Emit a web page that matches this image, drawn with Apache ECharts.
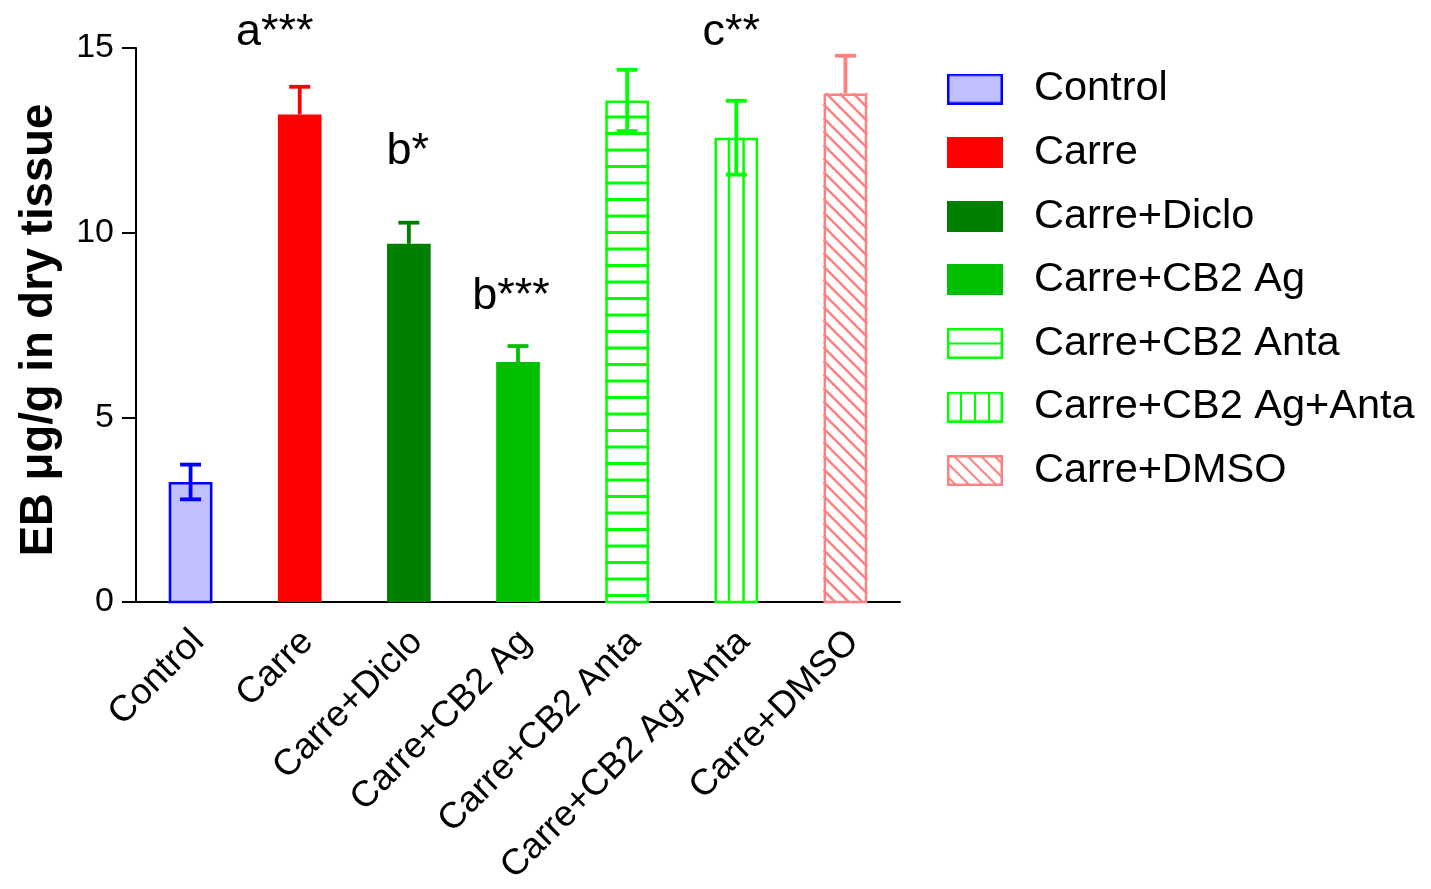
<!DOCTYPE html>
<html><head><meta charset="utf-8">
<script src="https://cdn.jsdelivr.net/npm/echarts@6/dist/echarts.min.js"></script>
<style>html,body{margin:0;padding:0;background:#fff}#c{width:1431px;height:889px}</style>
</head><body><div id="c"></div>
<script>
// ---- data ----
const categories = ['Control','Carre','Carre+Diclo','Carre+CB2 Ag','Carre+CB2 Anta','Carre+CB2 Ag+Anta','Carre+DMSO'];
const means = [3.25, 13.2, 9.7, 6.5, 13.58, 12.57, 13.77];
const sems = [0.47, 0.75, 0.57, 0.43, 0.83, 1.0, 1.02];
const yTicks = [0, 5, 10, 15];
const annotCategories = ['Carre','Carre+Diclo','Carre+CB2 Ag','Carre+CB2 Ag+Anta'];
const annotLabels = ['a***','b*','b***','c**'];
const annotLevels = [15.43, 12.19, 8.26, 15.43];

// ---- styles / layout ----
const annotShiftX = [-25, -1, -7, -5];
const barStyles = [
  {fill:'#c0c0ff', stroke:'#0000ff', pattern:'none', solid:false, errBoth:true},
  {fill:'#ff0000', stroke:'#ff0000', pattern:'none', solid:true, errBoth:false},
  {fill:'#008000', stroke:'#008000', pattern:'none', solid:true, errBoth:false},
  {fill:'#00c000', stroke:'#00c000', pattern:'none', solid:true, errBoth:false},
  {fill:'#ffffff', stroke:'#00ff00', pattern:'h', solid:false, errBoth:true},
  {fill:'#ffffff', stroke:'#00ff00', pattern:'v', solid:false, errBoth:true},
  {fill:'#ffffff', stroke:'#ff8080', pattern:'d', solid:false, errBoth:false}
];
const FONT = 'Liberation Sans, Arial, sans-serif';

function patternLines(st, x0, y0, x1, y1, hSpace, dSpace, lw) {
  const out = [];
  const line = (ax, ay, bx, by) => out.push({type:'line', shape:{x1:ax, y1:ay, x2:bx, y2:by}, style:{stroke:st.stroke, lineWidth:lw}});
  if (st.pattern === 'h') {
    for (let y = y0 + hSpace; y < y1 - 2; y += hSpace) line(x0, y, x1, y);
  } else if (st.pattern === 'v') {
    const n = hSpace;
    for (let k = 1; k < n; k++) { const x = x0 + (x1 - x0) * k / n; line(x, y0, x, y1); }
  } else if (st.pattern === 'd') {
    const cStart = (y0 + 11) - x0;
    for (let k = -8; k < 200; k++) {
      const c = cStart + k * dSpace;
      const sx = Math.max(x0, y0 - c), ex = Math.min(x1, y1 - c);
      if (sx < ex) line(sx, sx + c, ex, ex + c);
      if (x0 + c > y1) break;
    }
  }
  return out;
}

function renderBar(params, api) {
  const st = barStyles[params.seriesIndex];
  const i = api.value(0), v = api.value(1), e = api.value(2);
  const top = api.coord([i, v]), base = api.coord([i, 0]);
  const bw = api.size([1, 0])[0] * 0.4;
  const x0 = top[0] - bw / 2, x1 = top[0] + bw / 2, y0 = top[1], y1 = base[1];
  const lw = 2.5;
  const children = [];
  children.push({type:'rect', shape:{x:x0, y:y0, width:bw, height:y1 - y0}, style:{fill:st.fill}});
  if (st.pattern !== 'none') {
    const hs = st.pattern === 'h' ? 16.5 : 3;
    patternLines(st, x0, y0, x1, y1, hs, 13.5, st.pattern === 'h' ? 3 : 2.5).forEach(c => children.push(c));
  }
  if (!st.solid) {
    children.push({type:'rect', shape:{x:x0 + lw/2, y:y0 + lw/2, width:bw - lw, height:y1 - y0 - lw/2}, style:{fill:null, stroke:st.stroke, lineWidth:lw}});
  }
  const up = api.coord([i, v + e]);
  const lo = st.errBoth ? api.coord([i, v - e]) : top;
  const cx = top[0], cap = 21, elw = 3.8;
  children.push({type:'line', shape:{x1:cx, y1:up[1], x2:cx, y2:lo[1]}, style:{stroke:st.stroke, lineWidth:elw}});
  children.push({type:'line', shape:{x1:cx - cap/2, y1:up[1], x2:cx + cap/2, y2:up[1]}, style:{stroke:st.stroke, lineWidth:elw}});
  if (st.errBoth) children.push({type:'line', shape:{x1:cx - cap/2, y1:lo[1], x2:cx + cap/2, y2:lo[1]}, style:{stroke:st.stroke, lineWidth:elw}});
  return {type:'group', children};
}

function makeIcon(st) {
  const w = 56, h = 31;
  const cv = document.createElement('canvas'); cv.width = w; cv.height = h;
  const g = cv.getContext('2d');
  g.fillStyle = st.fill; g.fillRect(0, 0, w, h);
  g.strokeStyle = st.stroke; g.lineWidth = 2;
  if (st.pattern === 'h') { g.beginPath(); g.moveTo(0, h/2); g.lineTo(w, h/2); g.stroke(); }
  if (st.pattern === 'v') { g.beginPath(); for (let k = 1; k < 4; k++) { g.moveTo(w*k/4, 0); g.lineTo(w*k/4, h); } g.stroke(); }
  if (st.pattern === 'd') {
    g.save(); g.beginPath(); g.rect(0, 0, w, h); g.clip();
    g.beginPath();
    for (let c = -60; c < 60; c += 13.5) { g.moveTo(0, c); g.lineTo(w, c + w); }
    g.stroke(); g.restore();
  }
  if (!st.solid) { g.lineWidth = 2.5; g.strokeRect(1.25, 1.25, w - 2.5, h - 2.5); }
  return cv.toDataURL();
}

const chart = echarts.init(document.getElementById('c'), null, {renderer:'canvas'});
const series = categories.map((name, i) => ({
  type:'custom', name, renderItem: renderBar, clip:false,
  data:[[i, means[i], sems[i]]], z: 2
}));
series.push({
  type:'custom', name:'_annot', clip:false, z:3,
  data: annotCategories.map((c, k) => [categories.indexOf(c), annotLevels[k], k]),
  renderItem: (params, api) => {
    const p = api.coord([api.value(0), api.value(1)]);
    const k = api.value(2);
    return {type:'text', x: p[0] + annotShiftX[k], y: p[1],
      style:{text: annotLabels[k], fontSize:45, fontFamily:FONT, fill:'#000', align:'center', verticalAlign:'middle'}};
  }
});

chart.setOption({
  animation:false,
  backgroundColor:'#fff',
  grid:{left:136, top:48, width:764, bottom:287, containLabel:false},
  legend:{
    orient:'vertical', left:942, top:63, padding:5,
    itemWidth:56, itemHeight:31, itemGap:21.6,
    selectedMode:false,
    textStyle:{fontSize:41.5, fontFamily:FONT, color:'#000', padding:[0,0,0,26]},
    data: categories.map((n, i) => ({name:n, icon:'image://' + makeIcon(barStyles[i])}))
  },
  xAxis:{
    type:'category', data:categories,
    axisLine:{show:true, lineStyle:{color:'#000', width:2}},
    axisTick:{show:false},
    axisLabel:{interval:0, rotate:45, fontSize:36.5, fontFamily:FONT, color:'#000', margin:42, padding:[0,-11,0,0]},
    splitLine:{show:false}
  },
  yAxis:{
    type:'value', min:yTicks[0], max:yTicks[yTicks.length-1], interval:yTicks[1]-yTicks[0],
    name:'EB μg/g in dry tissue', nameLocation:'middle', nameGap:74, nameRotate:90,
    nameTextStyle:{fontSize:45.5, fontWeight:'bold', fontFamily:FONT, color:'#000', padding:[0,10,0,0]},
    axisLine:{show:true, lineStyle:{color:'#000', width:2}},
    axisTick:{show:true, length:14, lineStyle:{color:'#000', width:2}},
    axisLabel:{fontSize:34, fontFamily:FONT, color:'#000', margin:22},
    splitLine:{show:false}
  },
  series
});
</script></body></html>
